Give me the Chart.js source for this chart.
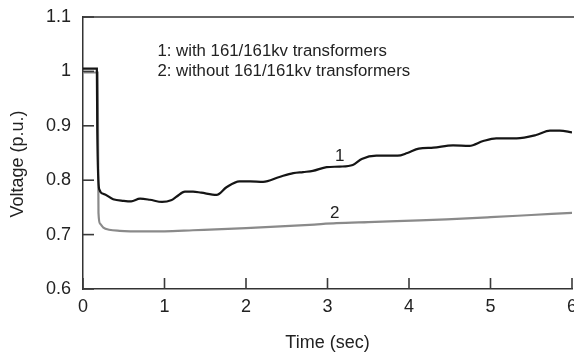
<!DOCTYPE html>
<html>
<head>
<meta charset="utf-8">
<script src="https://cdn.jsdelivr.net/npm/chart.js@4/dist/chart.umd.min.js"></script>
<style>
  html, body { margin: 0; padding: 0; background: #fff; }
  #wrap { width: 574px; height: 354px; }
</style>
</head>
<body>
<div id="wrap"><canvas id="c" width="574" height="354"></canvas></div>
<script>
// Curve 1: with 161/161kv transformers (time in s, voltage in p.u.)
const timeWith = [0, 0.17, 0.175, 0.2, 0.25, 0.37, 0.5, 0.59, 0.7, 0.82, 0.97, 1.08, 1.15, 1.25, 1.35, 1.45, 1.64, 1.76, 1.92, 2.05, 2.21, 2.41, 2.58, 2.7, 2.82, 2.99, 3.15, 3.31, 3.42, 3.6, 3.72, 3.86, 3.98, 4.12, 4.3, 4.54, 4.74, 4.91, 5.07, 5.2, 5.32, 5.56, 5.73, 5.85, 6.0];
const voltWith = [1.005, 1.005, 0.89, 0.783, 0.775, 0.765, 0.762, 0.761, 0.766, 0.764, 0.760, 0.763, 0.770, 0.779, 0.779, 0.777, 0.773, 0.787, 0.798, 0.798, 0.797, 0.806, 0.813, 0.815, 0.817, 0.824, 0.825, 0.828, 0.839, 0.845, 0.845, 0.845, 0.850, 0.858, 0.860, 0.864, 0.863, 0.872, 0.877, 0.877, 0.877, 0.883, 0.891, 0.891, 0.888];

// Curve 2: without 161/161kv transformers
const timeWithout = [0, 0.18, 0.19, 0.21, 0.25, 0.32, 0.45, 0.75, 1.0, 1.35, 2.0, 2.78, 3.11, 3.5, 4.13, 4.46, 5.0, 5.5, 6.0];
const voltWithout = [0.998, 0.998, 0.74, 0.72, 0.713, 0.709, 0.707, 0.706, 0.706, 0.708, 0.712, 0.718, 0.721, 0.723, 0.726, 0.728, 0.732, 0.736, 0.740];

// Axis ticks
const timeTicks = [0, 1, 2, 3, 4, 5, 6];
const voltTicks = [0.6, 0.7, 0.8, 0.9, 1, 1.1];

// Text drawn inside the plot
const curveLabels = ['1', '2'];
const curveLabelAt = [[3.15, 0.843], [3.09, 0.740]];
const noteLines = ['1: with 161/161kv transformers', '2: without 161/161kv transformers'];
const noteAt = [[0.913, 1.036], [0.913, 0.9995]];
const yTitle = 'Voltage (p.u.)';

const FONT = '"Liberation Sans", Arial, Helvetica, sans-serif';
const toPoints = (xs, ys) => xs.map((x, i) => ({ x, y: ys[i] }));
const TICK_LEN = 11;

// Frame top line, inward tick marks, in-plot text and the vertical axis title
const overlay = {
  id: 'overlay',
  afterDraw(chart) {
    const { ctx, chartArea, scales: { x, y } } = chart;
    ctx.save();
    ctx.strokeStyle = '#333';
    ctx.lineWidth = 1.5;
    ctx.beginPath();
    ctx.moveTo(chartArea.left, chartArea.top);
    ctx.lineTo(chartArea.right + 2, chartArea.top);
    ctx.stroke();

    ctx.strokeStyle = '#3a3a3a';
    ctx.lineWidth = 1.6;
    for (const v of timeTicks) {
      const px = x.getPixelForValue(v);
      ctx.beginPath();
      ctx.moveTo(px, chartArea.bottom);
      ctx.lineTo(px, chartArea.bottom - TICK_LEN);
      ctx.stroke();
    }
    for (const v of voltTicks) {
      const py = y.getPixelForValue(v);
      ctx.beginPath();
      ctx.moveTo(chartArea.left, py);
      ctx.lineTo(chartArea.left + TICK_LEN, py);
      ctx.stroke();
    }

    ctx.fillStyle = '#222';
    ctx.textBaseline = 'middle';
    ctx.textAlign = 'center';
    ctx.font = '17px ' + FONT;
    curveLabels.forEach((t, i) => {
      ctx.fillText(t, x.getPixelForValue(curveLabelAt[i][0]), y.getPixelForValue(curveLabelAt[i][1]));
    });
    ctx.textAlign = 'left';
    ctx.font = '16.8px ' + FONT;
    noteLines.forEach((t, i) => {
      ctx.fillText(t, x.getPixelForValue(noteAt[i][0]), y.getPixelForValue(noteAt[i][1]));
    });

    ctx.font = '18px ' + FONT;
    ctx.textAlign = 'center';
    ctx.translate(18, (chartArea.top + chartArea.bottom) / 2 + 11);
    ctx.rotate(-Math.PI / 2);
    ctx.fillText(yTitle, 0, 0);
    ctx.restore();
  }
};

new Chart(document.getElementById('c'), {
  type: 'line',
  data: {
    datasets: [
      {
        label: 'with 161/161kv transformers',
        data: toPoints(timeWith, voltWith),
        borderColor: '#151515',
        borderWidth: 2.2,
        pointRadius: 0,
        cubicInterpolationMode: 'monotone',
        fill: false
      },
      {
        label: 'without 161/161kv transformers',
        data: toPoints(timeWithout, voltWithout),
        borderColor: '#8a8a8a',
        borderWidth: 2.2,
        pointRadius: 0,
        cubicInterpolationMode: 'monotone',
        fill: false
      }
    ]
  },
  options: {
    responsive: false,
    animation: false,
    devicePixelRatio: 1,
    layout: { padding: { top: 17, right: 2, left: 0, bottom: 0 } },
    plugins: { legend: { display: false }, tooltip: { enabled: false } },
    scales: {
      x: {
        type: 'linear',
        min: 0,
        max: 6,
        afterBuildTicks: s => { s.ticks = timeTicks.map(v => ({ value: v })); },
        afterFit: s => { s.height = 65; s.paddingLeft = 0; s.paddingRight = 0; },
        border: { display: true, color: '#333', width: 1.5 },
        grid: { display: true, drawOnChartArea: false, drawTicks: false, tickLength: 0 },
        ticks: { color: '#222', padding: 7, font: { family: FONT, size: 18 }, maxRotation: 0, autoSkip: false },
        title: { display: true, text: 'Time (sec)', color: '#222', font: { family: FONT, size: 18 }, padding: { top: 0, bottom: 0 } }
      },
      y: {
        type: 'linear',
        min: 0.6,
        max: 1.1,
        afterBuildTicks: s => { s.ticks = voltTicks.map(v => ({ value: v })); },
        afterFit: s => { s.width = 83; s.paddingTop = 0; s.paddingBottom = 0; },
        border: { display: true, color: '#333', width: 1.5 },
        grid: { display: true, drawOnChartArea: false, drawTicks: false, tickLength: 0 },
        ticks: { color: '#222', padding: 12, font: { family: FONT, size: 18 }, callback: v => String(v) },
        title: { display: false }
      }
    }
  },
  plugins: [overlay]
});
</script>
</body>
</html>
